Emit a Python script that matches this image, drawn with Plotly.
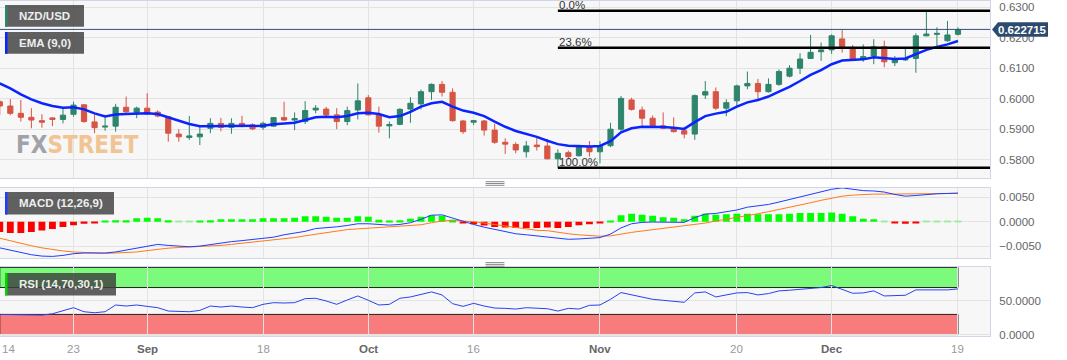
import plotly.graph_objects as go

# ---------------- data ----------------
tick_idx = [0, 7, 14, 25, 35, 45, 57, 70, 79, 91]
tick_labels = ["14", "23", "Sep", "18", "Oct", "16", "Nov", "20", "Dec", "19"]

opens = [0.5990, 0.5976, 0.5952, 0.5939, 0.5928, 0.5937, 0.5932, 0.5949, 0.5980, 0.5924,
         0.5907, 0.5910, 0.5972, 0.5955, 0.5969, 0.5956, 0.5941, 0.5884, 0.5873, 0.5875,
         0.5903, 0.5919, 0.5906, 0.5919, 0.5914, 0.5906, 0.5910, 0.5938, 0.5930, 0.5925,
         0.5963, 0.5966, 0.5947, 0.5925, 0.5963, 0.6003, 0.5947, 0.5911, 0.5916, 0.5966,
         0.5983, 0.6023, 0.6047, 0.6021, 0.5927, 0.5923, 0.5927, 0.5897, 0.5857, 0.5850,
         0.5826, 0.5848, 0.5845, 0.5803, 0.5823, 0.5813, 0.5843, 0.5826, 0.5846, 0.5900,
         0.5996, 0.5963, 0.5936, 0.5911, 0.5903, 0.5895, 0.5884, 0.6012, 0.6023, 0.5969,
         0.5993, 0.6042, 0.6050, 0.6023, 0.6047, 0.6074, 0.6100, 0.6132, 0.6154, 0.6160,
         0.6196, 0.6165, 0.6129, 0.6140, 0.6170, 0.6118, 0.6127, 0.6132, 0.6206, 0.6211,
         0.6190, 0.6211]
highs = [0.5996, 0.5999, 0.5996, 0.5969, 0.5949, 0.5939, 0.5969, 0.5990, 0.5981, 0.5947,
         0.5947, 0.5983, 0.6007, 0.5974, 0.6018, 0.5962, 0.5943, 0.5900, 0.5943, 0.5911,
         0.5936, 0.5937, 0.5936, 0.5944, 0.5919, 0.5925, 0.5939, 0.5990, 0.5955, 0.5992,
         0.5979, 0.5973, 0.5969, 0.5974, 0.6050, 0.6012, 0.5974, 0.5925, 0.5969, 0.6005,
         0.6030, 0.6050, 0.6058, 0.6034, 0.5930, 0.5930, 0.5930, 0.5918, 0.5870, 0.5857,
         0.5861, 0.5873, 0.5868, 0.5834, 0.5830, 0.5849, 0.5861, 0.5861, 0.5921, 0.6009,
         0.6003, 0.5974, 0.5945, 0.5955, 0.5939, 0.5908, 0.6014, 0.6058, 0.6037, 0.5998,
         0.6046, 0.6089, 0.6065, 0.6067, 0.6096, 0.6110, 0.6149, 0.6209, 0.6184, 0.6211,
         0.6225, 0.6176, 0.6178, 0.6195, 0.6190, 0.6140, 0.6170, 0.6214, 0.6289, 0.6234,
         0.6255, 0.6234]
lows = [0.5947, 0.5946, 0.5925, 0.5903, 0.5905, 0.5910, 0.5919, 0.5941, 0.5921, 0.5887,
        0.5895, 0.5892, 0.5952, 0.5936, 0.5947, 0.5939, 0.5859, 0.5859, 0.5865, 0.5848,
        0.5887, 0.5893, 0.5885, 0.5906, 0.5897, 0.5898, 0.5907, 0.5928, 0.5897, 0.5917,
        0.5952, 0.5941, 0.5900, 0.5913, 0.5932, 0.5945, 0.5889, 0.5870, 0.5913, 0.5921,
        0.5965, 0.5996, 0.6007, 0.5925, 0.5885, 0.5914, 0.5879, 0.5852, 0.5819, 0.5821,
        0.5807, 0.5830, 0.5801, 0.5774, 0.5801, 0.5810, 0.5810, 0.5788, 0.5841, 0.5892,
        0.5961, 0.5911, 0.5905, 0.5900, 0.5889, 0.5870, 0.5865, 0.5999, 0.5963, 0.5943,
        0.5972, 0.6031, 0.5998, 0.6020, 0.6042, 0.6070, 0.6081, 0.6130, 0.6124, 0.6147,
        0.6151, 0.6127, 0.6121, 0.6113, 0.6103, 0.6107, 0.6124, 0.6085, 0.6205, 0.6173,
        0.6187, 0.6207]
closes = [0.5976, 0.5952, 0.5939, 0.5930, 0.5923, 0.5932, 0.5946, 0.5979, 0.5925, 0.5905,
          0.5910, 0.5972, 0.5957, 0.5969, 0.5950, 0.5943, 0.5887, 0.5875, 0.5878, 0.5884,
          0.5919, 0.5906, 0.5919, 0.5910, 0.5901, 0.5919, 0.5938, 0.5930, 0.5935, 0.5961,
          0.5969, 0.5947, 0.5925, 0.5961, 0.5993, 0.5947, 0.5910, 0.5915, 0.5965, 0.5985,
          0.6023, 0.6047, 0.6021, 0.5928, 0.5892, 0.5928, 0.5897, 0.5857, 0.5851, 0.5832,
          0.5845, 0.5843, 0.5803, 0.5821, 0.5810, 0.5843, 0.5826, 0.5843, 0.5900, 0.6001,
          0.5965, 0.5936, 0.5911, 0.5903, 0.5892, 0.5884, 0.6010, 0.6023, 0.5969, 0.5987,
          0.6042, 0.6050, 0.6023, 0.6047, 0.6089, 0.6100, 0.6130, 0.6152, 0.6160, 0.6206,
          0.6171, 0.6129, 0.6138, 0.6170, 0.6121, 0.6127, 0.6132, 0.6206, 0.6212, 0.6214,
          0.6209, 0.6227]
ema9 = [0.6050, 0.6034, 0.6014, 0.5998, 0.5985, 0.5976, 0.5970, 0.5972, 0.5965, 0.5952,
        0.5942, 0.5948, 0.5950, 0.5952, 0.5952, 0.5950, 0.5939, 0.5928, 0.5917, 0.5910,
        0.5910, 0.5911, 0.5911, 0.5911, 0.5910, 0.5911, 0.5916, 0.5919, 0.5921, 0.5930,
        0.5939, 0.5941, 0.5939, 0.5943, 0.5952, 0.5954, 0.5950, 0.5939, 0.5943, 0.5957,
        0.5974, 0.5985, 0.5990, 0.5974, 0.5961, 0.5954, 0.5943, 0.5925, 0.5908, 0.5894,
        0.5885, 0.5875, 0.5862, 0.5851, 0.5846, 0.5845, 0.5843, 0.5845, 0.5861, 0.5890,
        0.5903, 0.5908, 0.5908, 0.5907, 0.5905, 0.5901, 0.5923, 0.5943, 0.5951, 0.5957,
        0.5974, 0.5988, 0.5996, 0.6007, 0.6023, 0.6039, 0.6058, 0.6078, 0.6094, 0.6113,
        0.6125, 0.6127, 0.6129, 0.6136, 0.6132, 0.6130, 0.6132, 0.6147, 0.6160, 0.6170,
        0.6178, 0.6189]
last_price = 0.622715
fib_high = 0.62885
fib_low = 0.5774
fib_start = 53

macd_line = [-0.00534, -0.00583, -0.00632, -0.00674, -0.00702, -0.00709, -0.00688, -0.00653, -0.00639, -0.00639,
             -0.00639, -0.00618, -0.00583, -0.00548, -0.00498, -0.00463, -0.00484, -0.00505, -0.00512, -0.00498,
             -0.00463, -0.00428, -0.00407, -0.00386, -0.00358, -0.00337, -0.00316, -0.00267, -0.00232, -0.00197,
             -0.00140, -0.00126, -0.00105, -0.00077, -0.00042, -0.00042, -0.00056, -0.00070, -0.00056, -0.00021,
             0.00049, 0.00133, 0.00140, 0.00070, 0.00000, -0.00056, -0.00112, -0.00161, -0.00211, -0.00246,
             -0.00267, -0.00288, -0.00303, -0.00338, -0.00359, -0.00352, -0.00345, -0.00324, -0.00253, -0.00127,
             -0.00042, -0.00014, -0.00007, -0.00007, -0.00007, -0.00014, 0.00084, 0.00155, 0.00169, 0.00197,
             0.00239, 0.00296, 0.00324, 0.00352, 0.00401, 0.00451, 0.00500, 0.00556, 0.00605, 0.00662,
             0.00690, 0.00662, 0.00634, 0.00627, 0.00605, 0.00556, 0.00521, 0.00535, 0.00556, 0.00570,
             0.00577, 0.00584]
signal_line = [-0.00337, -0.00393, -0.00442, -0.00491, -0.00534, -0.00569, -0.00597, -0.00618, -0.00632, -0.00639,
               -0.00646, -0.00639, -0.00632, -0.00618, -0.00590, -0.00562, -0.00541, -0.00527, -0.00520, -0.00512,
               -0.00505, -0.00484, -0.00463, -0.00442, -0.00421, -0.00400, -0.00379, -0.00351, -0.00323, -0.00288,
               -0.00253, -0.00218, -0.00190, -0.00161, -0.00147, -0.00133, -0.00119, -0.00112, -0.00105, -0.00091,
               -0.00063, -0.00021, 0.00014, 0.00028, 0.00021, 0.00000, -0.00028, -0.00056, -0.00091, -0.00119,
               -0.00147, -0.00176, -0.00183, -0.00218, -0.00246, -0.00268, -0.00282, -0.00296, -0.00289, -0.00246,
               -0.00218, -0.00190, -0.00162, -0.00134, -0.00113, -0.00092, -0.00063, -0.00028, 0.00014, 0.00049,
               0.00084, 0.00120, 0.00162, 0.00204, 0.00246, 0.00296, 0.00338, 0.00387, 0.00436, 0.00486,
               0.00521, 0.00542, 0.00556, 0.00563, 0.00563, 0.00563, 0.00563, 0.00570, 0.00570, 0.00570,
               0.00577, 0.00577]
macd_hist = [-0.0021, -0.0023, -0.0023, -0.0021, -0.0018, -0.0015, -0.0011, -0.0007, -0.0004, -0.0003,
             0.0002, 0.0003, 0.0003, 0.0007, 0.0008, 0.0007, 0.0003, 0.0001, 0.0001, 0.0002,
             0.0003, 0.0005, 0.0005, 0.0005, 0.0005, 0.0007, 0.0007, 0.0007, 0.0008, 0.0011,
             0.0011, 0.0010, 0.0008, 0.0008, 0.0011, 0.0010, 0.0004, 0.0002, 0.0003, 0.0006,
             0.0010, 0.0013, 0.0012, 0.0004, -0.0003, -0.0005, -0.0008, -0.0011, -0.0012, -0.0013,
             -0.0013, -0.0013, -0.0012, -0.0013, -0.0011, -0.0007, -0.0005, -0.0003, 0.0002, 0.0013,
             0.0016, 0.0014, 0.0012, 0.0009, 0.0008, 0.0005, 0.0012, 0.0016, 0.0014, 0.0015,
             0.0016, 0.0016, 0.0015, 0.0015, 0.0015, 0.0016, 0.0018, 0.0018, 0.0018, 0.0019,
             0.0016, 0.0011, 0.0006, 0.0005, 0.0001, -0.0002, -0.0004, -0.0002, 0.0001, 0.0001,
             0.0001, 0.0001]
rsi = [30, 29.5, 29, 28.5, 29, 31, 35, 40, 34, 32.5,
       34, 44, 42.5, 44, 42, 40, 35, 34, 34, 36,
       42.5, 41, 42.5, 41, 40, 45, 47.5, 47, 47.5, 53.5,
       54, 50, 45, 51.5, 57.5, 51, 44, 45, 54, 56,
       60, 63.5, 59, 46, 42, 46.5, 42.5, 39.5, 39, 38,
       40, 39.5, 38.5, 35, 39, 38, 43.5, 44, 52.5, 62.5,
       59, 55, 52.5, 51, 49, 48, 62, 63.5, 56, 58.5,
       62, 62.5, 59, 61, 65, 66, 67.5, 69.5, 70, 73,
       67.5, 61.5, 62, 65, 57.5, 58, 58.5, 66.5, 66.5, 66.5,
       66.5, 68]
rsi_upper = 70
rsi_lower = 30

# ---------------- styling ----------------
FONT = "Liberation Sans, Arial, Helvetica, sans-serif"
UP = "#2e846c"
DOWN = "#d65545"
GRID = "#e3e3e3"
BORDER = "#d2d5e6"
PLOT_H = 336.0
PLOT_W = 990.0

def px(x):
    return x / PLOT_W

def py(y):
    return (PLOT_H - y) / PLOT_H

idx = list(range(len(closes)))
x_range = [0.02, 94.04]

fig = go.Figure()

fig.add_trace(go.Candlestick(
    x=idx, open=opens, high=highs, low=lows, close=closes,
    increasing=dict(line=dict(color=UP, width=1), fillcolor=UP),
    decreasing=dict(line=dict(color=DOWN, width=1), fillcolor=DOWN),
    whiskerwidth=0, xaxis="x", yaxis="y", showlegend=False, hoverinfo="skip"))
fig.add_trace(go.Scatter(x=idx, y=ema9, mode="lines", line=dict(color="#0a24ff", width=2.5),
                         xaxis="x", yaxis="y", showlegend=False, hoverinfo="skip"))

hist_colors = []
for v in macd_hist:
    if v >= 0:
        hist_colors.append("#9cf09c" if abs(v) <= 0.0001 else "#00ff00")
    else:
        hist_colors.append("#ff9c9c" if abs(v) <= 0.0001 else "#ff0000")
fig.add_trace(go.Bar(x=idx, y=macd_hist, marker=dict(color=hist_colors, line=dict(width=0)),
                     width=0.65, xaxis="x2", yaxis="y2", showlegend=False, hoverinfo="skip"))
fig.add_trace(go.Scatter(x=idx, y=signal_line, mode="lines", line=dict(color="#ff7a1a", width=1),
                         xaxis="x2", yaxis="y2", showlegend=False, hoverinfo="skip"))
fig.add_trace(go.Scatter(x=idx, y=macd_line, mode="lines", line=dict(color="#1f3cff", width=1),
                         xaxis="x2", yaxis="y2", showlegend=False, hoverinfo="skip"))
fig.add_trace(go.Scatter(x=idx, y=rsi, mode="lines", line=dict(color="#2a40f0", width=1),
                         xaxis="x3", yaxis="y3", showlegend=False, hoverinfo="skip"))

def xax(anchor, match=None):
    d = dict(domain=[0, 1], range=x_range, anchor=anchor, tickvals=tick_idx,
             showticklabels=False, showgrid=True, gridcolor=GRID, zeroline=False,
             showline=True, mirror=True, linecolor=BORDER, linewidth=1, ticks="")
    if match:
        d["matches"] = match
    return d

def yax(anchor, domain, rng, tickvals):
    return dict(domain=domain, range=rng, anchor=anchor, side="right", tickvals=tickvals,
                tickformat=".4f", showgrid=True, gridcolor=GRID, zeroline=False,
                showline=True, mirror=True, linecolor=BORDER, linewidth=1,
                ticks="outside", ticklen=6, tickcolor="rgba(0,0,0,0)",
                tickfont=dict(family=FONT, size=11.5, color="#666666"))

fig.update_layout(
    width=1067, height=360, margin=dict(l=0, r=77, t=0, b=24),
    paper_bgcolor="white", plot_bgcolor="#f7f7f7",
    showlegend=False, boxgap=0.3, bargap=0.3,
    xaxis=dict(xax("y"), rangeslider=dict(visible=False)),
    xaxis2=xax("y2", "x"),
    xaxis3=xax("y3", "x"),
    yaxis=yax("x", [py(178), py(1)], [0.5740, 0.63203], [0.58, 0.59, 0.60, 0.61, 0.62, 0.63]),
    yaxis2=yax("x2", [py(258), py(187.6)], [-0.00741, 0.00696], [-0.005, 0.0, 0.005]),
    yaxis3=yax("x3", [0.0, py(266.7)], [-2.1, 101.0], [0, 50]),
)

shapes = []
annotations = []

# Fibonacci levels
fib_levels = [(0.0, "0.0%"), (0.236, "23.6%"), (1.0, "100.0%")]
for ratio, label in fib_levels:
    lvl = fib_high - ratio * (fib_high - fib_low)
    shapes.append(dict(type="line", xref="x", yref="y", x0=fib_start, x1=x_range[1], y0=lvl, y1=lvl,
                       line=dict(color="black", width=2.5)))
    annotations.append(dict(xref="x", yref="y", x=fib_start, y=lvl, text=label, showarrow=False,
                            xanchor="left", yanchor="bottom", yshift=-1, borderpad=0,
                            font=dict(family=FONT, size=11.5, color="#333333")))

# current price line and tag
shapes.append(dict(type="line", xref="paper", yref="y", x0=0, x1=1, y0=last_price, y1=last_price,
                   line=dict(color="#34507a", width=1)))
tag_top, tag_bot, tag_mid = 22.3, 36.7, 29.5
shapes.append(dict(type="path", xref="paper", yref="paper", fillcolor="#2c4a6e", line=dict(width=0),
                   path=f"M {px(992)},{py(tag_mid)} L {px(998)},{py(tag_top)} L {px(1048)},{py(tag_top)} "
                        f"L {px(1048)},{py(tag_bot)} L {px(998)},{py(tag_bot)} Z"))
annotations.append(dict(xref="paper", yref="paper", x=px(1022.5), y=py(tag_mid), text=f"<b>{last_price:.6f}</b>",
                        showarrow=False, xanchor="center", yanchor="middle",
                        font=dict(family=FONT, size=11.5, color="white")))

# RSI bands
shapes.append(dict(type="rect", xref="x3", yref="y3", x0=0, x1=idx[-1], y0=rsi_upper, y1=100,
                   fillcolor="#7cfa7c", line=dict(color="#222222", width=1), layer="below"))
shapes.append(dict(type="rect", xref="x3", yref="y3", x0=0, x1=idx[-1], y0=0, y1=rsi_lower,
                   fillcolor="#f97c7c", line=dict(color="#222222", width=1), layer="below"))

# panel label boxes
boxes = [(5, 84, 5, 26.7, "#2e846c", "NZD/USD"),
         (5, 84, 32, 53.7, "#0a24ff", "EMA (9,0)"),
         (5, 114, 192, 214.5, "#1f3cff", "MACD (12,26,9)"),
         (5, 116, 273, 295.4, "#00d800", "RSI (14,70,30,1)")]
for x0, x1, y0, y1, stripe, label in boxes:
    shapes.append(dict(type="rect", xref="paper", yref="paper", x0=px(x0), x1=px(x1), y0=py(y1), y1=py(y0),
                       fillcolor="rgba(62,62,62,0.82)", line=dict(width=0)))
    shapes.append(dict(type="rect", xref="paper", yref="paper", x0=px(x0), x1=px(x0 + 2.5), y0=py(y1), y1=py(y0),
                       fillcolor=stripe, line=dict(width=0)))
    annotations.append(dict(xref="paper", yref="paper", x=px(16.5), y=py((y0 + y1) / 2), text=f"<b>{label}</b>",
                            showarrow=False, xanchor="left", yanchor="middle",
                            font=dict(family=FONT, size=11.5, color="#eeeeee")))

# panel resize handles
for base in (181.7, 262.6):
    for k in range(3):
        yy = base + k * 1.8
        shapes.append(dict(type="line", xref="paper", yref="paper", x0=px(485.5), x1=px(504.5),
                           y0=py(yy), y1=py(yy), line=dict(color="#8a8a8a", width=1)))

# x-axis labels
for i, lab in zip(tick_idx, tick_labels):
    is_month = lab.isalpha()
    txt = f"<b>{lab}</b>" if is_month else lab
    first = (i == tick_idx[0])
    annotations.append(dict(xref="x3" if not first else "paper", yref="paper",
                            x=i if not first else 0.0, y=py(349), text=txt, showarrow=False,
                            xanchor="left" if first else "center", yanchor="middle",
                            font=dict(family=FONT, size=11.5, color="#666666" if is_month else "#999999")))

# watermark
annotations.append(dict(xref="paper", yref="paper", x=px(14), y=py(145),
                        text="<b><span style='color:#9c9ea5'>FX</span><span style='color:#f2c28e'>STREET</span></b>",
                        showarrow=False, xanchor="left", yanchor="middle", opacity=0.95,
                        font=dict(family="Liberation Sans Narrow, DejaVu Sans Condensed, sans-serif", size=24)))

fig.update_layout(shapes=shapes, annotations=annotations)
fig.write_html("out.html", config={"displayModeBar": False},
               post_script="document.body.style.margin='0';document.body.style.overflow='hidden';")
